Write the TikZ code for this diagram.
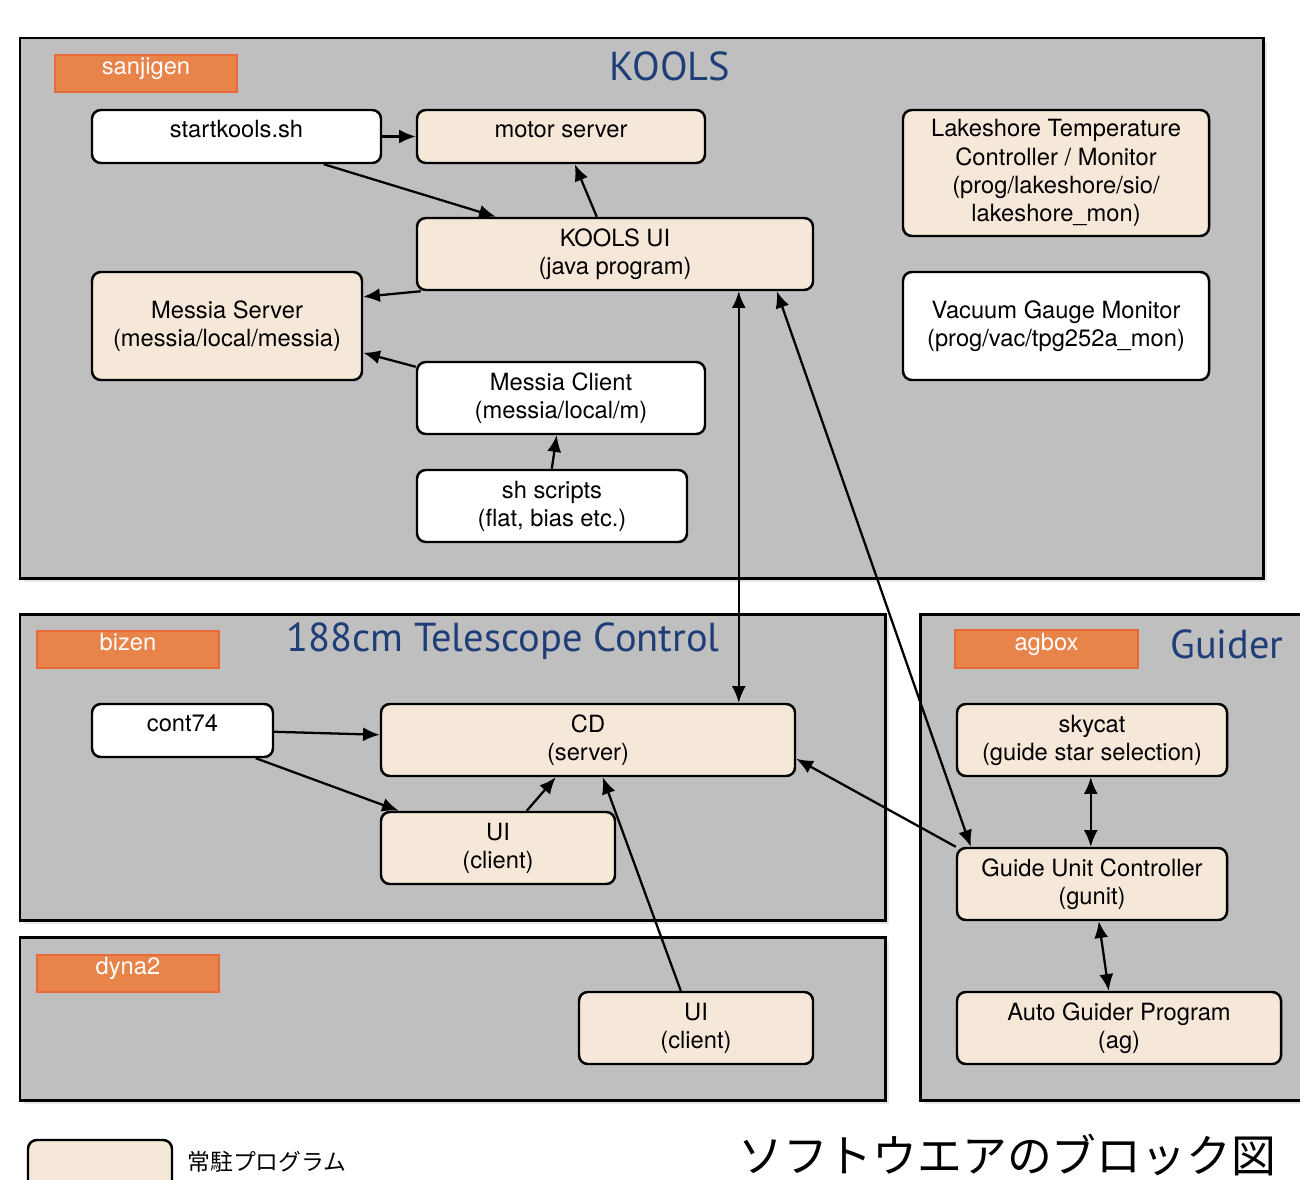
\documentclass[tikz,border=0pt]{standalone}
\usepackage{fontspec}
\setmainfont{TeX Gyre Heros}
\newfontfamily\titlefont{PT Sans}
\newfontfamily\cjk{Noto Sans CJK JP}
\usetikzlibrary{arrows.meta,shadows,calc}

\definecolor{panelgray}{RGB}{190,191,190}
\definecolor{cream}{RGB}{246,232,216}
\definecolor{labelorange}{RGB}{232,131,74}
\definecolor{labelrim}{RGB}{232,106,58}
\definecolor{titleblue}{RGB}{31,62,120}

\tikzset{
  panel/.style={draw=black, line width=1.7pt, fill=panelgray,
    drop shadow={shadow xshift=2.5pt, shadow yshift=-2.5pt, opacity=0.2}},
  boxsize/.style 2 args={minimum width=#1*0.02cm, minimum height=#2*0.02cm},
  prog/.style={draw=black, line width=1.4pt, rounded corners=5pt, fill=cream,
    align=center, inner sep=0pt},
  tool/.style={prog, fill=white},
  toptext/.style={text height=9.8pt, text depth=8.6pt},
  hostlabel/.style={fill=labelorange, draw=labelrim, line width=0.8pt,
    text=white, inner sep=0pt, toptext},
  paneltitle/.style={font=\titlefont\fontsize{23}{26}\selectfont, text=titleblue},
  link/.style={-{Latex[length=9.5pt,width=8pt]}, line width=1.3pt},
  twoway/.style={{Latex[length=9.5pt,width=8pt]}-{Latex[length=9.5pt,width=8pt]}, line width=1.3pt}
}

\begin{document}
\begin{tikzpicture}[x=0.02cm, y=-0.02cm, font=\fontsize{13.5}{16}\selectfont]
    \useasboundingbox (0,0) rectangle (1300,1179);

    % host panels
    \draw[panel] (20,38) rectangle (1263,578);
    \draw[panel] (20,614) rectangle (885,920);
    \draw[panel] (20,937) rectangle (885,1100);
    \draw[panel] (920,614) rectangle (1330,1100);

    \node[hostlabel, boxsize={182}{37}] (sanjigen) at (146,73.5) {sanjigen};
    \node[hostlabel, boxsize={182}{37}] (bizen) at (128,649.5) {bizen};
    \node[hostlabel, boxsize={182}{37}] (dyna) at (128,973.5) {dyna2};
    \node[hostlabel, boxsize={183}{38}] (agbox) at (1046.5,649) {agbox};

    \node[paneltitle] (koolstitle) at (670,66) {KOOLS};
    \node[paneltitle] (tctitle) at (503,641) {188cm Telescope Control};
    \node[paneltitle, anchor=west, inner sep=0pt] (guidertitle) at (1170,644) {Guider};

    % KOOLS
    \node[tool, toptext, boxsize={289}{53}] (startkools) at (236.5,136.5) {startkools.sh};
    \node[prog, toptext, boxsize={288}{53}] (motor) at (561,136.5) {motor server};
    \node[prog, boxsize={396}{72}] (koolsui) at (615,254) {KOOLS UI\\(java program)};
    \node[prog, boxsize={306}{126}] (lakeshore) at (1056,173)
        {Lakeshore Temperature\\Controller / Monitor\\(prog/lakeshore/sio/\\lakeshore\_mon)};
    \node[prog, boxsize={270}{108}] (messiasrv) at (227,326) {Messia Server\\(messia/local/messia)};
    \node[tool, boxsize={306}{108}] (vacuum) at (1056,326) {Vacuum Gauge Monitor\\(prog/vac/tpg252a\_mon)};
    \node[tool, boxsize={288}{72}] (messiacli) at (561,398) {Messia Client\\(messia/local/m)};
    \node[tool, boxsize={270}{72}] (shscripts) at (552,506) {sh scripts\\(flat, bias etc.)};

    % telescope control
    \node[tool, toptext, boxsize={181}{53}] (cont74) at (182.5,730.5) {cont74};
    \node[prog, boxsize={414}{72}] (cd) at (588,740) {CD\\(server)};
    \node[prog, boxsize={234}{72}] (uibizen) at (498,848) {UI\\(client)};
    \node[prog, boxsize={234}{72}] (uidyna) at (696,1028) {UI\\(client)};

    % guider
    \node[prog, boxsize={270}{72}] (skycat) at (1092,740) {skycat\\(guide star selection)};
    \node[prog, boxsize={270}{72}] (gunit) at (1092,884) {Guide Unit Controller\\(gunit)};
    \node[prog, boxsize={324}{72}] (autoguider) at (1119,1028) {Auto Guider Program\\(ag)};

    % connections
    \draw[link] (startkools.east) -- (motor.west);
    \draw[link] ($(startkools.south west)+(233,0)$) -- ($(koolsui.north west)+(80,0)$);
    \draw[link] ($(koolsui.north west)+(181,0)$) -- ($(motor.south west)+(159,0)$);
    \draw[link] ($(koolsui.south west)+(5,0)$) -- ($(messiasrv.north east)+(0,26)$);
    \draw[link] ($(messiacli.north west)+(0,6)$) -- ($(messiasrv.north east)+(0,82)$);
    \draw[link] ($(shscripts.north west)+(136,0)$) -- ($(messiacli.south west)+(141,0)$);
    \draw[twoway] ($(koolsui.south west)+(323,0)$) -- ($(cd.north west)+(359,0)$);
    \draw[twoway] ($(koolsui.south west)+(361,0)$) -- ($(gunit.north west)+(15,0)$);
    \draw[link] ($(cont74.north east)+(0,29)$) -- ($(cd.north west)+(0,32)$);
    \draw[link] ($(cont74.south west)+(165,0)$) -- ($(uibizen.north west)+(19,0)$);
    \draw[link] ($(uibizen.north west)+(147,0)$) -- ($(cd.south west)+(176,0)$);
    \draw[link] ($(uidyna.north west)+(103,0)$) -- ($(cd.south west)+(223,0)$);
    \draw[link] (gunit.north west) -- ($(cd.north east)+(0,56)$);
    \draw[twoway] ($(skycat.south west)+(135,0)$) -- ($(gunit.north west)+(135,0)$);
    \draw[twoway] ($(gunit.south west)+(143,0)$) -- ($(autoguider.north west)+(153,0)$);

    % legend and caption
    \node[prog, boxsize={144}{70}] (legendbox) at (100,1175) {};
    \node[anchor=west, inner sep=0pt, font=\cjk\fontsize{13}{15}\selectfont] (legendtext) at (187,1162) {常駐プログラム};
    \node[font=\cjk\fontsize{25.5}{28}\selectfont, inner sep=0pt] (caption) at (1007,1155) {ソフトウエアのブロック図};
\end{tikzpicture}
\end{document}
